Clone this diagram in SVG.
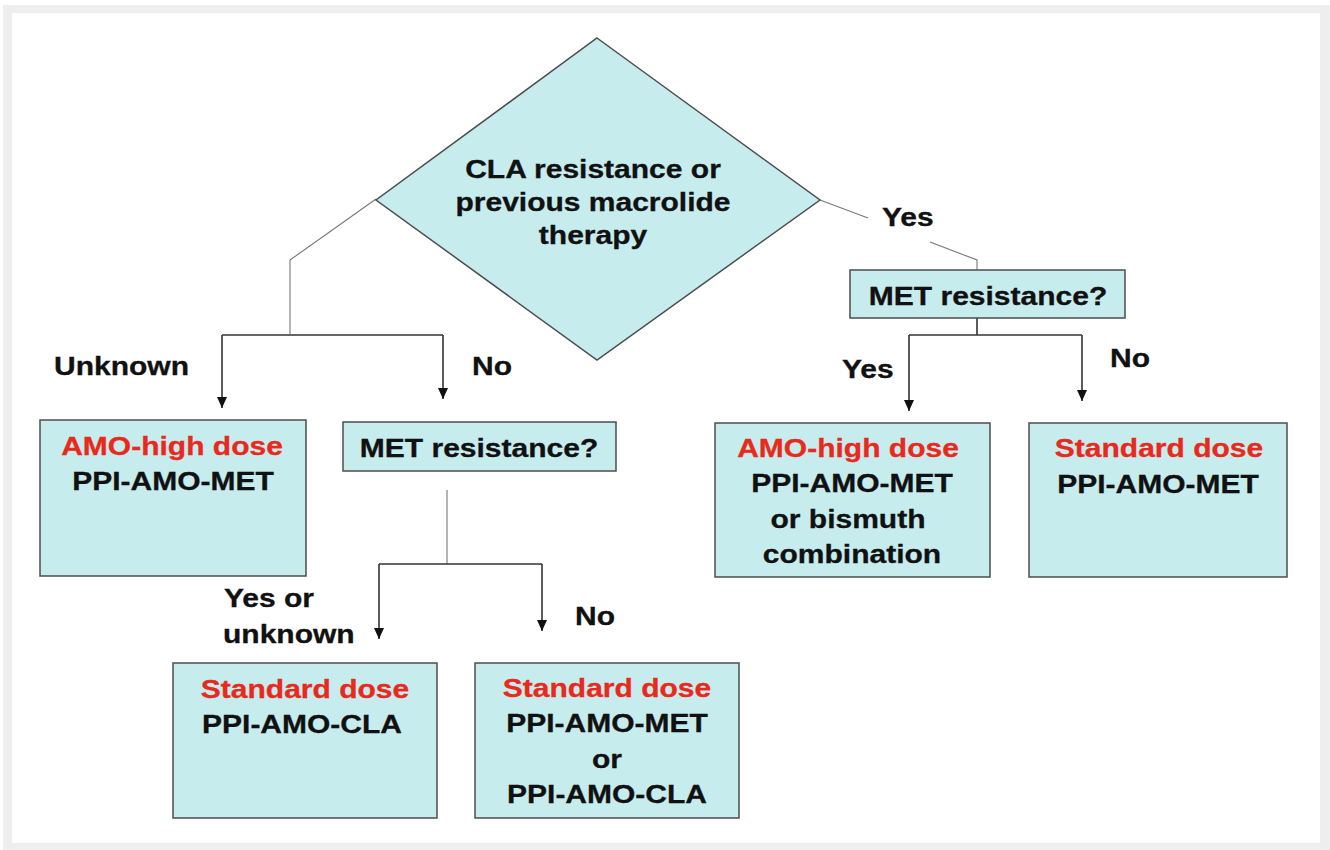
<svg xmlns="http://www.w3.org/2000/svg" width="1330" height="850" viewBox="0 0 1330 850">
<style>
.node{fill:#c6ecee;stroke:#4d4d4d;stroke-width:1.5}
.t{font-family:"Liberation Sans",Arial,sans-serif;font-weight:bold;font-size:25px;fill:#111;text-anchor:middle;stroke:#111;stroke-width:0.3}
.r{fill:#e8291c;stroke:#e8291c}
.lbl{font-family:"Liberation Sans",Arial,sans-serif;font-weight:bold;font-size:25px;fill:#111;stroke:#111;stroke-width:0.3}
.c{fill:none;stroke:#333;stroke-width:1.6}
.thin{fill:none;stroke:#777;stroke-width:1.1}
</style>
<defs>
<marker id="ah" markerUnits="userSpaceOnUse" markerWidth="12" markerHeight="12" viewBox="0 0 12 12" refX="11" refY="6" orient="auto">
<path d="M0,1 L11,6 L0,11 z" fill="#111"/>
</marker>
</defs>
<rect x="0" y="0" width="1330" height="850" fill="#ffffff"/>
<rect x="3" y="5" width="1327" height="845" fill="#eeeeee"/>
<rect x="12" y="13" width="1308" height="830" fill="#ffffff"/>

<g id="connectors">
<polyline class="thin" points="376,199 290,260 290,334"/>
<polyline class="c" points="222,335 443,335"/>
<line class="c" x1="222" y1="335" x2="222" y2="408" marker-end="url(#ah)"/>
<line class="c" x1="443" y1="335" x2="443" y2="399" marker-end="url(#ah)"/>
<line class="thin" x1="820" y1="200" x2="868" y2="218"/>
<polyline class="thin" points="930,242 977,260 977,270"/>
<line class="c" x1="977" y1="318" x2="977" y2="335"/>
<polyline class="c" points="909,335 1082,335"/>
<line class="c" x1="909" y1="335" x2="909" y2="411" marker-end="url(#ah)"/>
<line class="c" x1="1082" y1="335" x2="1082" y2="401" marker-end="url(#ah)"/>
<line class="thin" x1="447" y1="490" x2="447" y2="564"/>
<polyline class="c" points="379,564 542,564"/>
<line class="c" x1="379" y1="564" x2="379" y2="639" marker-end="url(#ah)"/>
<line class="c" x1="542" y1="564" x2="542" y2="631" stroke-width="2.2" marker-end="url(#ah)"/>
</g>

<g id="labels">
<text class="lbl" transform="translate(882,226) scale(1.2,1)">Yes</text>
<text class="lbl" transform="translate(54,375) scale(1.2,1)">Unknown</text>
<text class="lbl" transform="translate(472,375) scale(1.2,1)">No</text>
<text class="lbl" transform="translate(842,378) scale(1.2,1)">Yes</text>
<text class="lbl" transform="translate(1110,367) scale(1.2,1)">No</text>
<text class="lbl" transform="translate(224,607) scale(1.2,1)">Yes or</text>
<text class="lbl" transform="translate(223,643) scale(1.2,1)">unknown</text>
<text class="lbl" transform="translate(575,625) scale(1.2,1)">No</text>
</g>

<g id="decision-cla">
<polygon class="node" points="597,38 820,200 597,360 376,200" stroke-width="1.2"/>
<text class="t" transform="translate(593,178) scale(1.2,1)">CLA resistance or</text>
<text class="t" transform="translate(593,211) scale(1.2,1)">previous macrolide</text>
<text class="t" transform="translate(593,244) scale(1.2,1)">therapy</text>
</g>

<g id="met-right">
<rect class="node" x="850" y="270" width="275" height="48"/>
<text class="t" transform="translate(988,305) scale(1.2,1)">MET resistance?</text>
</g>

<g id="met-left">
<rect class="node" x="343" y="422" width="273" height="49"/>
<text class="t" transform="translate(479,457) scale(1.2,1)">MET resistance?</text>
</g>

<g id="box-unknown">
<rect class="node" x="40" y="420" width="266" height="156"/>
<text class="t r" transform="translate(172,455) scale(1.2,1)">AMO-high dose</text>
<text class="t" transform="translate(173,490) scale(1.2,1)">PPI-AMO-MET</text>
</g>

<g id="box-met-yes">
<rect class="node" x="715" y="423" width="275" height="154"/>
<text class="t r" transform="translate(848,457) scale(1.2,1)">AMO-high dose</text>
<text class="t" transform="translate(852,492) scale(1.2,1)">PPI-AMO-MET</text>
<text class="t" transform="translate(848,528) scale(1.2,1)">or bismuth</text>
<text class="t" transform="translate(852,563) scale(1.2,1)">combination</text>
</g>

<g id="box-met-no">
<rect class="node" x="1029" y="423" width="258" height="154"/>
<text class="t r" transform="translate(1159,457) scale(1.2,1)">Standard dose</text>
<text class="t" transform="translate(1158,493) scale(1.2,1)">PPI-AMO-MET</text>
</g>

<g id="box-cla">
<rect class="node" x="173" y="663" width="264" height="155"/>
<text class="t r" transform="translate(305,698) scale(1.2,1)">Standard dose</text>
<text class="t" transform="translate(302,733) scale(1.2,1)">PPI-AMO-CLA</text>
</g>

<g id="box-met-or-cla">
<rect class="node" x="475" y="663" width="264" height="155"/>
<text class="t r" transform="translate(607,697) scale(1.2,1)">Standard dose</text>
<text class="t" transform="translate(607,732) scale(1.2,1)">PPI-AMO-MET</text>
<text class="t" transform="translate(607,768) scale(1.2,1)">or</text>
<text class="t" transform="translate(607,803) scale(1.2,1)">PPI-AMO-CLA</text>
</g>
</svg>
